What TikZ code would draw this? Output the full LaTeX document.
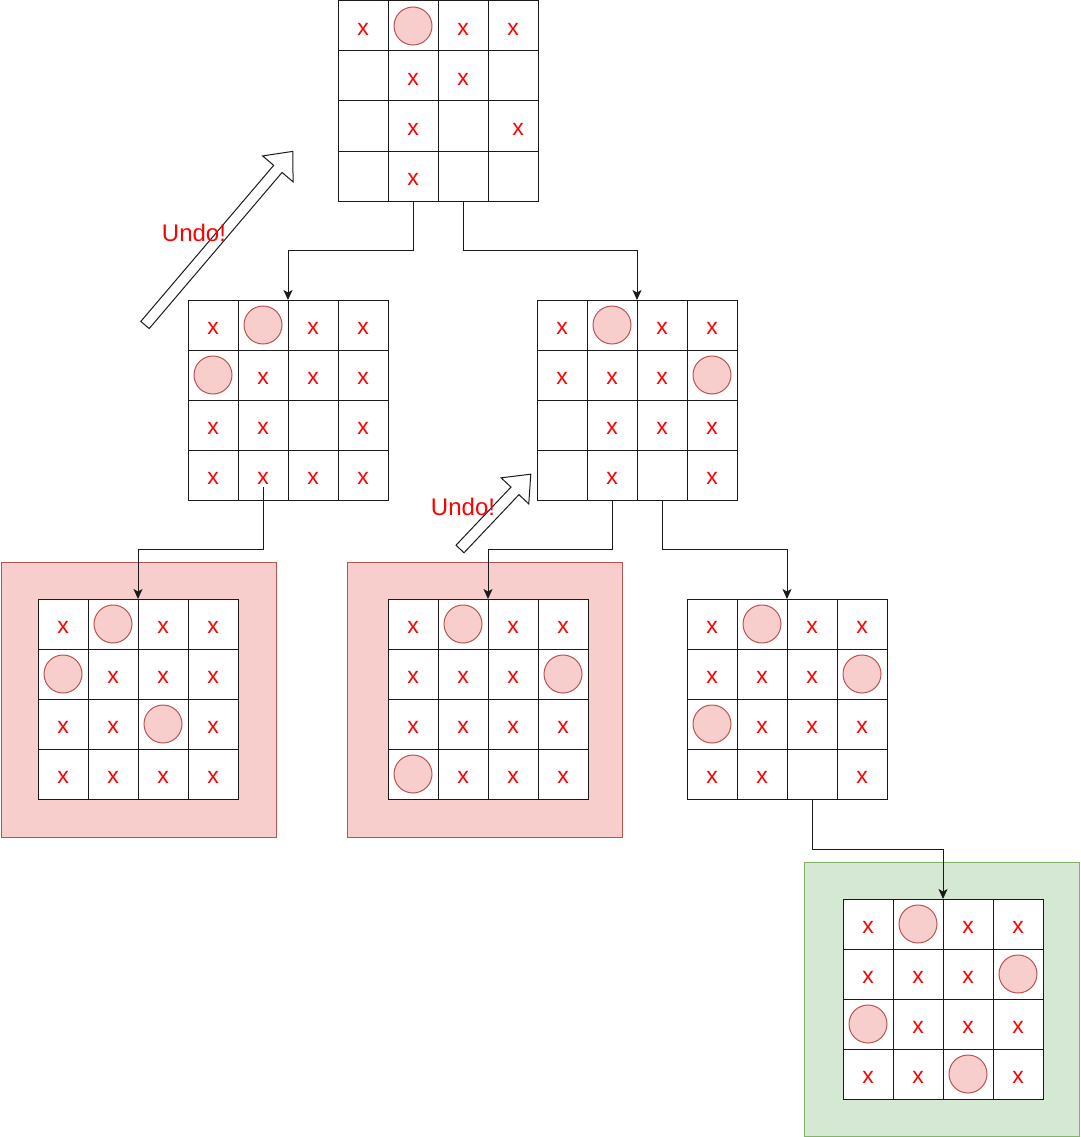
\documentclass[tikz,border=0pt]{standalone}
\usepackage{fontspec}
\setmainfont{Liberation Sans}
\usetikzlibrary{calc,arrows.meta}
\definecolor{pinkfill}{HTML}{F8CECC}
\definecolor{pinkline}{HTML}{B85450}
\definecolor{greenfill}{HTML}{D5E8D4}
\definecolor{greenline}{HTML}{82B366}
\definecolor{markred}{HTML}{FF0000}
\definecolor{gridline}{HTML}{1A1A1A}
\tikzset{
  cellbox/.style={draw=gridline, fill=white, line width=1pt, minimum size=50pt, inner sep=0pt, outer sep=0pt},
  xmark/.style={text=markred, font=\fontsize{23}{23}\selectfont, inner sep=0pt},
  piece/.style={circle, draw=pinkline, fill=pinkfill, line width=1pt, minimum size=38pt, inner sep=0pt},
  failbox/.style={draw=pinkline, fill=pinkfill, line width=1pt},
  winbox/.style={draw=greenline, fill=greenfill, line width=1pt},
  link/.style={draw=gridline, line width=1pt, -{Stealth[length=10pt,width=9pt,inset=2.5pt]}},
  undoarrow/.style={draw=gridline, fill=white, line width=1pt, line join=miter},
  undotext/.style={text=markred, font=\fontsize{24}{24}\selectfont, inner sep=0pt, anchor=base}
}
\newcommand\drawboard[4]{%
  \foreach \v [count=\i from 0] in {#4} {
    \pgfmathtruncatemacro\rr{int(\i/4)+1}
    \pgfmathtruncatemacro\cc{mod(\i,4)+1}
    \node[cellbox] (#1-\rr-\cc) at ({#2+50*\cc-25},{#3+50*\rr-25}) {};
    \ifnum\v=1 \node[xmark] (#1-\rr-\cc-t) at ($(#1-\rr-\cc.center)+(0,3)$) {x};\fi
    \ifnum\v=2 \node[piece] (#1-\rr-\cc-t) at (#1-\rr-\cc.center) {};\fi
    \ifnum\v=3 \node[xmark] (#1-\rr-\cc-t) at ($(#1-\rr-\cc.center)+(5,3)$) {x};\fi
  }%
}
\begin{document}
\begin{tikzpicture}[x=1pt,y=-1pt]
\useasboundingbox (0,0) rectangle (1080,1137);
% background boxes
\draw[failbox] (1,562) rectangle (276,837);
\draw[failbox] (347,562) rectangle (622,837);
\draw[winbox] (804,862) rectangle (1079,1136);
% boards: 0 empty, 1 x, 2 piece, 3 x (shifted)
\drawboard{g1}{338}{1}{1,2,1,1, 0,1,1,0, 0,1,0,3, 0,1,0,0}
\drawboard{g2}{188}{300}{1,2,1,1, 2,1,1,1, 1,1,0,1, 1,1,1,1}
\drawboard{g3}{537}{300}{1,2,1,1, 1,1,1,2, 0,1,1,1, 0,1,0,1}
\drawboard{g4}{38}{599}{1,2,1,1, 2,1,1,1, 1,1,2,1, 1,1,1,1}
\drawboard{g5}{388}{599}{1,2,1,1, 1,1,1,2, 1,1,1,1, 2,1,1,1}
\drawboard{g6}{687}{599}{1,2,1,1, 1,1,1,2, 2,1,1,1, 1,1,0,1}
\drawboard{g7}{843}{899}{1,2,1,1, 1,1,1,2, 2,1,1,1, 1,1,2,1}
% connectors
\draw[link] (g1-4-2.south) -- ++(0,49) -| (g2-1-2.north east);
\draw[link] (g1-4-3.south) -- ++(0,49) -| (g3-1-2.north east);
\draw[link] ($(g2-4-2.center)+(0,12)$) -- ++(0,62) -| (g4-1-2.north east);
\draw[link] (g3-4-2.south) -- ++(0,49) -| (g5-1-2.north east);
\draw[link] (g3-4-3.south) -- ++(0,49) -| (g6-1-2.north east);
\draw[link] (g6-4-3.south) -- ++(0,50) -| (g7-1-2.north east);
% undo arrows
\begin{scope}[shift={(145,325)}, rotate=49.6]
  \draw[undoarrow] (0,-5.5) -- (205,-5.5) -- (205,-20) -- (228,0) -- (205,20) -- (205,5.5) -- (0,5.5) -- cycle;
\end{scope}
\begin{scope}[shift={(460,549)}, rotate=46.6]
  \draw[undoarrow] (0,-5.5) -- (80,-5.5) -- (80,-19) -- (103,0) -- (80,19) -- (80,5.5) -- (0,5.5) -- cycle;
\end{scope}
\node[undotext] (u1) at (194,241) {Undo!};
\node[undotext] (u2) at (463,515) {Undo!};
\end{tikzpicture}
\end{document}
